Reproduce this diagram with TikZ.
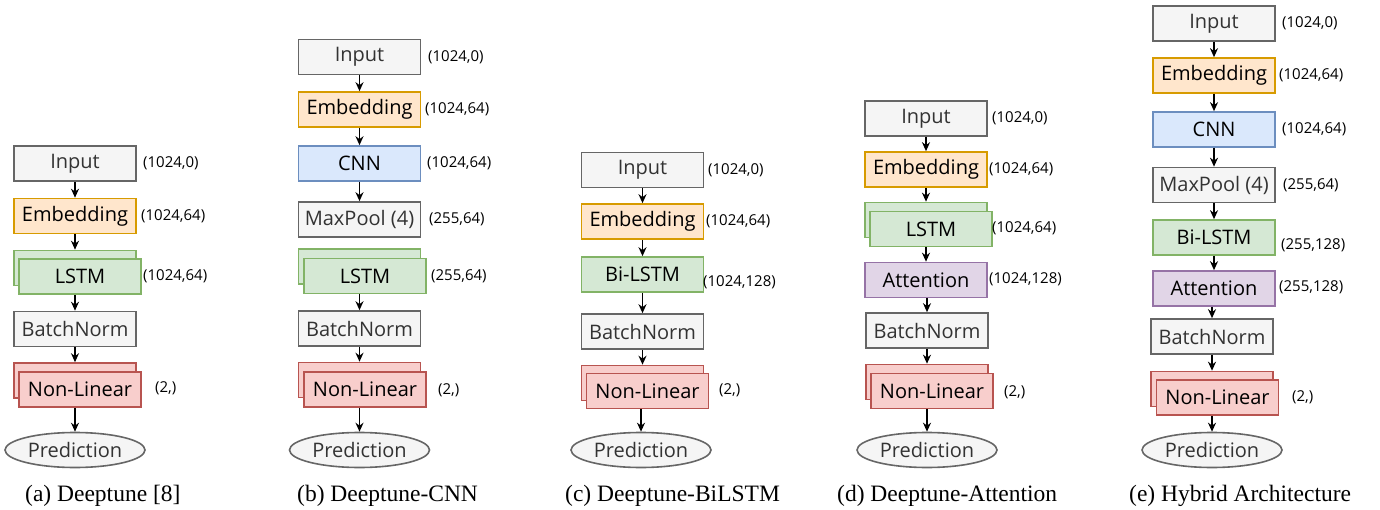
\documentclass[tikz,border=0pt]{standalone}
\usepackage{fontspec}
\setmainfont{Liberation Serif}
\newfontfamily\boxfont{Open Sans}
\usetikzlibrary{arrows.meta,shapes.geometric}
\definecolor{gfill}{HTML}{F5F5F5}\definecolor{gdraw}{HTML}{666666}\definecolor{gtext}{HTML}{333333}
\definecolor{ofill}{HTML}{FFE6CC}\definecolor{odraw}{HTML}{D79B00}
\definecolor{bfill}{HTML}{DAE8FC}\definecolor{bdraw}{HTML}{6C8EBF}
\definecolor{grfill}{HTML}{D5E8D4}\definecolor{grdraw}{HTML}{82B366}
\definecolor{pfill}{HTML}{E1D5E7}\definecolor{pdraw}{HTML}{9673A6}
\definecolor{rfill}{HTML}{F8CECC}\definecolor{rdraw}{HTML}{B85450}
\tikzset{
  base/.style={draw, line width=1.6pt, minimum width=122pt, minimum height=35pt, inner sep=0pt, font=\boxfont\fontsize{20}{22}\selectfont},
  gbox/.style={base, fill=gfill, draw=gdraw, text=gtext},
  obox/.style={base, fill=ofill, draw=odraw, text=black},
  bbox/.style={base, fill=bfill, draw=bdraw, text=black},
  grbox/.style={base, fill=grfill, draw=grdraw, text=black},
  pbox/.style={base, fill=pfill, draw=pdraw, text=black},
  rbox/.style={base, fill=rfill, draw=rdraw, text=black},
  pred/.style={ellipse, draw=gdraw, fill=gfill, line width=1.6pt, minimum width=140pt, minimum height=35pt, inner sep=0pt, text=gtext, font=\boxfont\fontsize{20}{22}\selectfont},
  lab/.style={anchor=west, inner sep=0pt, font=\boxfont\fontsize{15}{17}\selectfont},
  captxt/.style={anchor=west, inner sep=0pt, font=\fontsize{23.5}{26}\selectfont},
  arr/.style={-{Stealth[length=9pt,width=8pt]}, line width=1.6pt, black}
}
\begin{document}
\begin{tikzpicture}[x=1pt,y=-1pt]
\useasboundingbox (0,0) rectangle (1380,510);
% ---------- (a)
\node[gbox] (aIn) at (75,163.5) {Input};
\node[obox] (aEmb) at (75,216) {Embedding};
\node[grbox] (aLSTMb) at (75,268) {};
\node[grbox] (aLSTM) at (80,276.5) {LSTM};
\node[gbox] (aBN) at (75,329) {BatchNorm};
\node[rbox] (aNLb) at (75,380.5) {};
\node[rbox] (aNL) at (80,389.5) {Non-Linear};
\node[pred] (aPr) at (75,450) {Prediction};
\draw[arr] (aIn) -- (aEmb);
\draw[arr] (aEmb) -- (aLSTMb);
\draw[arr] (aLSTM.south -| aBN.north) -- (aBN.north);
\draw[arr] (aBN) -- (aNLb);
\draw[arr] (aNL.south -| aPr.north) -- (aPr.north);
\node[lab] (aL1) at (143,163) {(1024,0)};
\node[lab] (aL2) at (141,216) {(1024,64)};
\node[lab] (aL3) at (143,276) {(1024,64)};
\node[lab] (aL4) at (155,388) {(2,)};
\node[captxt] (aC) at (25,496) {(a) Deeptune [8]};
% ---------- (b)
\node[gbox] (bIn) at (359.5,57) {Input};
\node[obox] (bEmb) at (359.5,109.5) {Embedding};
\node[bbox] (bCNN) at (359.5,163.5) {CNN};
\node[gbox] (bMP) at (359.5,219.5) {MaxPool (4)};
\node[grbox] (bLSTMb) at (359.5,266.5) {};
\node[grbox] (bLSTM) at (365,276) {LSTM};
\node[gbox] (bBN) at (359.5,328.5) {BatchNorm};
\node[rbox] (bNLb) at (359.5,380) {};
\node[rbox] (bNL) at (365,389.5) {Non-Linear};
\node[pred] (bPr) at (359.5,450) {Prediction};
\draw[arr] (bIn) -- (bEmb);
\draw[arr] (bEmb) -- (bCNN);
\draw[arr] (bCNN) -- (bMP);
\draw[arr] (bLSTM.south -| bBN.north) -- (bBN.north);
\draw[arr] (bBN) -- (bNLb);
\draw[arr] (bNL.south -| bPr.north) -- (bPr.north);
\node[lab] (bL1) at (428,57) {(1024,0)};
\node[lab] (bL2) at (425,109.5) {(1024,64)};
\node[lab] (bL3) at (427,163) {(1024,64)};
\node[lab] (bL4) at (429,219) {(255,64)};
\node[lab] (bL5) at (431,276) {(255,64)};
\node[lab] (bL6) at (438,390) {(2,)};
\node[captxt] (bC) at (297,496) {(b) Deeptune-CNN};
% ---------- (c)
\node[gbox] (cIn) at (642.5,170) {Input};
\node[obox] (cEmb) at (642.5,221.5) {Embedding};
\node[grbox] (cBi) at (642.5,274.5) {Bi-LSTM};
\node[gbox] (cBN) at (642.5,331.5) {BatchNorm};
\node[rbox] (cNLb) at (642.5,383) {};
\node[rbox] (cNL) at (647.5,391) {Non-Linear};
\node[pred] (cPr) at (641,450) {Prediction};
\draw[arr] (cIn) -- (cEmb);
\draw[arr] (cEmb) -- (cBi);
\draw[arr] (cBi) -- (cBN);
\draw[arr] (cBN) -- (cNLb);
\draw[arr] (cNL.south -| cPr.north) -- (cPr.north);
\node[lab] (cL1) at (708,170) {(1024,0)};
\node[lab] (cL2) at (706,221) {(1024,64)};
\node[lab] (cL3) at (703,282) {(1024,128)};
\node[lab] (cL4) at (719,390) {(2,)};
\node[captxt] (cC) at (565,496) {(c) Deeptune-BiLSTM};
% ---------- (d)
\node[gbox] (dIn) at (926,118.5) {Input};
\node[obox] (dEmb) at (926,169.5) {Embedding};
\node[grbox] (dLSTMb) at (926,220) {};
\node[grbox] (dLSTM) at (931,229) {LSTM};
\node[pbox] (dAtt) at (926,280) {Attention};
\node[gbox] (dBN) at (927,330.5) {BatchNorm};
\node[rbox] (dNLb) at (927,382) {};
\node[rbox] (dNL) at (932,391) {Non-Linear};
\node[pred] (dPr) at (927,450) {Prediction};
\draw[arr] (dIn) -- (dEmb);
\draw[arr] (dEmb) -- (dLSTMb);
\draw[arr] (dLSTM.south -| dAtt.north) -- (dAtt.north);
\draw[arr] (dAtt.south -| dBN.north) -- (dBN.north);
\draw[arr] (dBN) -- (dNLb);
\draw[arr] (dNL.south -| dPr.north) -- (dPr.north);
\node[lab] (dL1) at (992,118) {(1024,0)};
\node[lab] (dL2) at (989,169) {(1024,64)};
\node[lab] (dL3) at (992,228) {(1024,64)};
\node[lab] (dL4) at (989,279) {(1024,128)};
\node[lab] (dL5) at (1004,392) {(2,)};
\node[captxt] (dC) at (837,496) {(d) Deeptune-Attention};
% ---------- (e)
\node[gbox] (eIn) at (1214,23.5) {Input};
\node[obox] (eEmb) at (1214,75.5) {Embedding};
\node[bbox] (eCNN) at (1214,129.5) {CNN};
\node[gbox] (eMP) at (1214,185) {MaxPool (4)};
\node[grbox] (eBi) at (1214,237.5) {Bi-LSTM};
\node[pbox] (eAtt) at (1214,288.5) {Attention};
\node[gbox] (eBN) at (1212,336.5) {BatchNorm};
\node[rbox] (eNLb) at (1212,389) {};
\node[rbox] (eNL) at (1217.5,397.5) {Non-Linear};
\node[pred] (ePr) at (1212,450) {Prediction};
\draw[arr] (eIn) -- (eEmb);
\draw[arr] (eEmb) -- (eCNN);
\draw[arr] (eCNN) -- (eMP);
\draw[arr] (eMP) -- (eBi);
\draw[arr] (eBi) -- (eAtt);
\draw[arr] (eAtt.south -| eBN.north) -- (eBN.north);
\draw[arr] (eBN) -- (eNLb);
\draw[arr] (eNL.south -| ePr.north) -- (ePr.north);
\node[lab] (eL1) at (1282,23) {(1024,0)};
\node[lab] (eL2) at (1279,75) {(1024,64)};
\node[lab] (eL3) at (1282,129) {(1024,64)};
\node[lab] (eL4) at (1283,185) {(255,64)};
\node[lab] (eL5) at (1281,245) {(255,128)};
\node[lab] (eL6) at (1279,287) {(255,128)};
\node[lab] (eL7) at (1292,397) {(2,)};
\node[captxt] (eC) at (1129,496) {(e) Hybrid Architecture};
\end{tikzpicture}
\end{document}
